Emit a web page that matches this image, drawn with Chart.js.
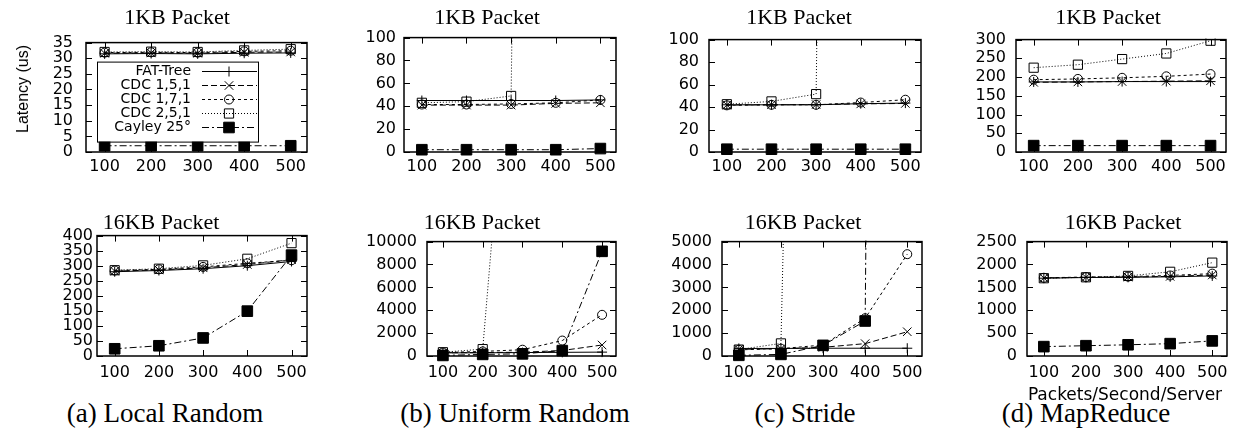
<!DOCTYPE html>
<html><head><meta charset="utf-8">
<script src="https://cdn.jsdelivr.net/npm/chart.js@4.4.1/dist/chart.umd.min.js"></script>
<style>
html,body{margin:0;padding:0;background:#fff;}
#page{position:relative;width:1233px;height:430px;overflow:hidden;background:#fff;}
canvas{position:absolute;}
.lbl{position:absolute;white-space:nowrap;line-height:1;transform:translate(-50%,-50%);color:#000;}
.ttl{font-family:'Liberation Serif',serif;font-size:22px;}
.cap{font-family:'Liberation Serif',serif;font-size:27px;}
.sans{font-family:'DejaVu Sans',sans-serif;font-size:17px;}
.ylab{font-family:'Liberation Sans',sans-serif;font-size:16px;transform:translate(-50%,-50%) rotate(-90deg);}
</style></head><body><div id="page"></div>
<script>
// ---------- data ----------
const xValues = [100, 200, 300, 400, 500];
const xTicks = [100, 200, 300, 400, 500];
const seriesNames = ['FAT-Tree', 'CDC 1,5,1', 'CDC 1,7,1', 'CDC 2,5,1', 'Cayley 25°'];
const packetTitles = ['1KB Packet', '16KB Packet'];
const captions = ['(a) Local Random', '(b) Uniform Random', '(c) Stride', '(d) MapReduce'];
const yAxisTitle = 'Latency (us)';
const xAxisTitle = 'Packets/Second/Server';

// rows: FAT-Tree, CDC 1,5,1, CDC 1,7,1, CDC 2,5,1, Cayley 25°
const localRandom1KB = [
  [31.4, 31.5, 31.4, 31.6, 31.7],
  [31.6, 31.7, 31.6, 31.9, 32.0],
  [31.8, 31.9, 31.8, 32.2, 32.4],
  [32.0, 32.1, 32.0, 32.5, 32.9],
  [2.0, 2.0, 2.0, 2.0, 2.0]
];
const localRandom16KB = [
  [280, 284, 290, 300, 314],
  [282, 286, 293, 304, 320],
  [284, 288, 296, 308, 318],
  [285, 290, 301, 323, 375],
  [24, 34, 60, 149, 335]
];
const uniformRandom1KB = [
  [45, 45, 45, 45, 45.5],
  [41, 41, 41, 42.5, 43],
  [41.5, 41.5, 42, 43, 45.5],
  [43, 44, 49, 3000, 6000],
  [2, 2, 2, 2, 3]
];
const uniformRandom16KB = [
  [270, 280, 300, 320, 340],
  [280, 300, 330, 480, 960],
  [300, 400, 550, 1350, 3600],
  [330, 600, 42000, 80000, 120000],
  [50, 140, 190, 470, 9150]
];
const stride1KB = [
  [42, 42, 42, 43, 43.5],
  [41.8, 42, 42.2, 42.8, 43.2],
  [41.5, 42, 42, 44, 46.5],
  [42.5, 45, 51.5, 3000, 6000],
  [2.5, 2.5, 2.5, 2.5, 2.5]
];
const stride16KB = [
  [330, 330, 340, 340, 340],
  [290, 320, 380, 540, 1060],
  [270, 320, 480, 1650, 4450],
  [280, 550, 80000, 120000, 160000],
  [30, 70, 465, 1530, 200000]
];
const mapReduce1KB = [
  [187, 187, 188, 188, 188],
  [186, 187, 188, 189, 190],
  [193, 195, 198, 202, 208],
  [225, 233, 248, 263, 297],
  [17, 17, 17, 17, 17]
];
const mapReduce16KB = [
  [1700, 1715, 1720, 1730, 1750],
  [1705, 1720, 1725, 1740, 1770],
  [1710, 1725, 1735, 1760, 1800],
  [1700, 1720, 1750, 1840, 2040],
  [205, 225, 245, 270, 330]
];

const yTicksLR1 = [0, 5, 10, 15, 20, 25, 30, 35];
const yTicksLR16 = [0, 50, 100, 150, 200, 250, 300, 350, 400];
const yTicks100 = [0, 20, 40, 60, 80, 100];
const yTicksUR16 = [0, 2000, 4000, 6000, 8000, 10000];
const yTicksST16 = [0, 1000, 2000, 3000, 4000, 5000];
const yTicksMR1 = [0, 50, 100, 150, 200, 250, 300];
const yTicksMR16 = [0, 500, 1000, 1500, 2000, 2500];

// ---------- styles ----------
const seriesStyles = [
  {dash: [], point: 'cross', r: 5, bg: 'rgba(0,0,0,0)'},
  {dash: [6, 3], point: 'crossRot', r: 6, bg: 'rgba(0,0,0,0)'},
  {dash: [3, 3], point: 'circle', r: 4.5, bg: 'rgba(0,0,0,0)'},
  {dash: [1, 2], point: 'rect', r: 6.5, bg: 'rgba(0,0,0,0)'},
  {dash: [7, 3, 2, 3], point: 'rect', r: 7.5, bg: '#000'}
];

const panels = [
  {data: localRandom1KB, yTicks: yTicksLR1, area: [86, 32, 307, 152], title: packetTitles[0], tx: 177, ty: 17, key: true, yPad: 13, xPad: 5},
  {data: uniformRandom1KB, yTicks: yTicks100, area: [404, 32, 616, 152], title: packetTitles[0], tx: 487, ty: 17, yPad: 8, xPad: 5},
  {data: stride1KB, yTicks: yTicks100, area: [709, 32, 921, 152], title: packetTitles[0], tx: 799, ty: 17, yPad: 10, xPad: 5},
  {data: mapReduce1KB, yTicks: yTicksMR1, area: [1016, 32, 1226, 152], title: packetTitles[0], tx: 1108, ty: 17, yPad: 10, xPad: 5},
  {data: localRandom16KB, yTicks: yTicksLR16, area: [97, 234, 307, 356], title: packetTitles[1], tx: 161, ty: 222, yPad: 4, xPad: 7},
  {data: uniformRandom16KB, yTicks: yTicksUR16, area: [427, 234, 616, 356], title: packetTitles[1], tx: 482, ty: 222, yPad: 10, xPad: 7},
  {data: stride16KB, yTicks: yTicksST16, area: [722, 234, 922, 356], title: packetTitles[1], tx: 803, ty: 222, yPad: 10, xPad: 7},
  {data: mapReduce16KB, yTicks: yTicksMR16, area: [1027, 234, 1227, 356], title: packetTitles[1], tx: 1123, ty: 222, yPad: 10, xPad: 7}
];

// ---------- plugins ----------
const framePlugin = {
  id: 'frame',
  beforeDatasetsDraw(chart) {
    const {ctx, chartArea: a, scales: {x, y}} = chart;
    const TL = 6;
    ctx.save();
    ctx.strokeStyle = '#000';
    ctx.lineWidth = 1;
    ctx.setLineDash([]);
    ctx.beginPath();
    x.ticks.forEach(t => {
      const px = Math.round(x.getPixelForValue(t.value)) + 0.5;
      ctx.moveTo(px, a.bottom); ctx.lineTo(px, a.bottom - TL);
      ctx.moveTo(px, a.top); ctx.lineTo(px, a.top + TL);
    });
    y.ticks.forEach(t => {
      const py = Math.round(y.getPixelForValue(t.value)) + 0.5;
      ctx.moveTo(a.left, py); ctx.lineTo(a.left + TL, py);
      ctx.moveTo(a.right, py); ctx.lineTo(a.right - TL, py);
    });
    ctx.stroke();
    ctx.lineWidth = 1.5;
    ctx.strokeRect(a.left, a.top, a.right - a.left, a.bottom - a.top);
    ctx.restore();
  }
};

const keyPlugin = {
  id: 'key',
  afterDatasetsDraw(chart) {
    const {ctx, chartArea: a} = chart;
    const bx = a.left + 11, by = a.top + 19, bw = 161, bh = 80;
    ctx.save();
    ctx.fillStyle = '#fff';
    ctx.fillRect(bx, by, bw, bh);
    ctx.strokeStyle = '#000';
    ctx.lineWidth = 1;
    ctx.setLineDash([]);
    ctx.strokeRect(bx + 0.5, by + 0.5, bw, bh);
    ctx.font = '14px "DejaVu Sans"';
    ctx.textAlign = 'right';
    ctx.textBaseline = 'middle';
    chart.data.datasets.forEach((ds, i) => {
      const yy = Math.round(by + 9 + i * 14.2) + 0.5;
      ctx.fillStyle = '#000';
      ctx.fillText(ds.label, bx + 94, yy);
      ctx.beginPath();
      ctx.setLineDash(ds.borderDash || []);
      ctx.moveTo(bx + 105, yy); ctx.lineTo(bx + 160, yy);
      ctx.stroke();
      ctx.setLineDash([]);
      ctx.fillStyle = ds.pointBackgroundColor;
      ctx.lineWidth = 1;
      Chart.helpers.drawPoint(ctx, {pointStyle: ds.pointStyle, radius: ds.pointRadius, borderWidth: 1, rotation: 0}, bx + 132, yy);
    });
    ctx.restore();
  }
};

// ---------- build ----------
const page = document.getElementById('page');
function addLabel(text, cls, cx, cy) {
  const d = document.createElement('div');
  d.className = 'lbl ' + cls;
  d.textContent = text;
  d.style.left = cx + 'px';
  d.style.top = cy + 'px';
  page.appendChild(d);
}

const Y_W = 70, PAD_T = 12, PAD_R = 20, X_H = 30, PAD_B = 4;
const tickFont = {family: 'DejaVu Sans', size: 16};

panels.forEach(p => {
  const [L, T, R, B] = p.area;
  const cv = document.createElement('canvas');
  const w = (R - L) + Y_W + PAD_R, h = (B - T) + PAD_T + X_H + PAD_B;
  cv.width = w; cv.height = h;
  cv.style.left = (L - Y_W) + 'px';
  cv.style.top = (T - PAD_T) + 'px';
  cv.style.width = w + 'px';
  cv.style.height = h + 'px';
  page.appendChild(cv);
  const yt = p.yTicks;
  new Chart(cv, {
    type: 'line',
    data: {
      datasets: p.data.map((vals, i) => ({
        label: seriesNames[i],
        data: xValues.map((xv, j) => ({x: xv, y: vals[j]})),
        borderColor: '#000',
        borderWidth: 1,
        borderDash: seriesStyles[i].dash,
        pointStyle: seriesStyles[i].point,
        pointRadius: seriesStyles[i].r,
        pointBorderColor: '#000',
        pointBackgroundColor: seriesStyles[i].bg,
        pointBorderWidth: 1,
        fill: false,
        tension: 0,
        clip: {left: 12, top: 1, right: 12, bottom: 12}
      }))
    },
    options: {
      responsive: false,
      animation: false,
      events: [],
      layout: {padding: {left: 0, top: PAD_T, right: PAD_R, bottom: PAD_B}},
      plugins: {legend: {display: false}, tooltip: {enabled: false}, title: {display: false}},
      scales: {
        x: {
          type: 'linear', min: 60, max: 535,
          afterBuildTicks: s => { s.ticks = xTicks.map(v => ({value: v})); },
          afterFit: s => { s.height = X_H; },
          grid: {display: false, drawTicks: false},
          border: {display: false},
          ticks: {font: tickFont, color: '#000', padding: p.xPad, autoSkip: false, maxRotation: 0, callback: v => String(v)}
        },
        y: {
          type: 'linear', min: yt[0], max: yt[yt.length - 1],
          afterBuildTicks: s => { s.ticks = yt.map(v => ({value: v})); },
          afterFit: s => { s.width = Y_W; },
          grid: {display: false, drawTicks: false},
          border: {display: false},
          ticks: {font: tickFont, color: '#000', padding: p.yPad, autoSkip: false, callback: v => String(v)}
        }
      }
    },
    plugins: p.key ? [framePlugin, keyPlugin] : [framePlugin]
  });
  addLabel(p.title, 'ttl', p.tx, p.ty);
});

addLabel(captions[0], 'cap', 165, 413);
addLabel(captions[1], 'cap', 515, 413);
addLabel(captions[2], 'cap', 805, 413);
addLabel(captions[3], 'cap', 1086, 413);
addLabel(yAxisTitle, 'ylab', 23, 89);
addLabel(xAxisTitle, 'sans', 1125, 394);
</script></body></html>
